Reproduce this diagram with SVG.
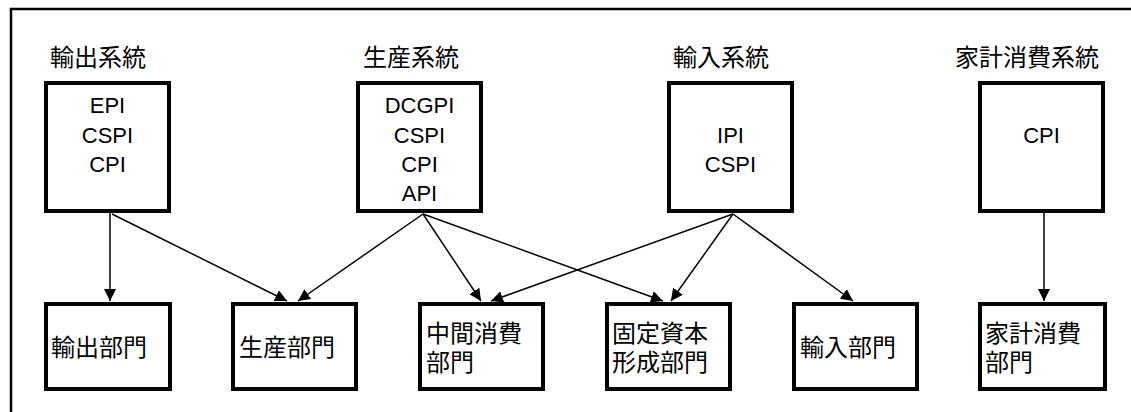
<svg xmlns="http://www.w3.org/2000/svg" width="1131" height="412" viewBox="0 0 1131 412">
  <defs>
    <marker id="arrow" markerUnits="userSpaceOnUse" markerWidth="12" markerHeight="12" refX="12" refY="6" orient="auto">
      <path d="M0,0 L12,6 L0,12 z" fill="#000"/>
    </marker>
    <style>
      .frame { fill: none; stroke: #000; stroke-width: 2.5; }
      .box { fill: #fff; stroke: #000; stroke-width: 4; }
      .title { font-family: "Noto Sans CJK JP", "Noto Sans CJK SC", sans-serif; font-size: 24px; fill: #000; }
      .idx { font-family: "Liberation Sans", Arial, sans-serif; font-size: 22px; fill: #000; text-anchor: middle; }
      .sect { font-family: "Noto Sans CJK JP", "Noto Sans CJK SC", sans-serif; font-size: 24px; fill: #000; }
      .link { fill: none; stroke: #000; stroke-width: 1.5; marker-end: url(#arrow); }
    </style>
  </defs>

  <rect width="1131" height="412" fill="#fff"/>

  <!-- outer frame: left and top edges -->
  <path class="frame" d="M11,412 V9 H1131"/>

  <!-- system titles -->
  <text class="title" x="50" y="65.5">輸出系統</text>
  <text class="title" x="363" y="65.5">生産系統</text>
  <text class="title" x="673" y="65.5">輸入系統</text>
  <text class="title" x="955" y="65.5">家計消費系統</text>

  <!-- connectors -->
  <g id="connectors">
    <line class="link" x1="110" y1="213" x2="110" y2="301"/>
    <line class="link" x1="112" y1="214" x2="287" y2="301"/>
    <line class="link" x1="423" y1="214" x2="298" y2="301"/>
    <line class="link" x1="423" y1="214" x2="481" y2="301"/>
    <line class="link" x1="423" y1="214" x2="663" y2="301"/>
    <line class="link" x1="733" y1="214" x2="491" y2="301"/>
    <line class="link" x1="733" y1="214" x2="671" y2="301"/>
    <line class="link" x1="733" y1="214" x2="853" y2="301"/>
    <line class="link" x1="1044" y1="213" x2="1044" y2="301"/>
  </g>

  <!-- index systems -->
  <g id="sys-export">
    <rect class="box" x="46" y="83" width="123" height="128"/>
    <text class="idx" x="107.5" y="113">EPI</text>
    <text class="idx" x="107.5" y="142.5">CSPI</text>
    <text class="idx" x="107.5" y="172">CPI</text>
  </g>
  <g id="sys-production">
    <rect class="box" x="358" y="83" width="123" height="128"/>
    <text class="idx" x="419.5" y="113">DCGPI</text>
    <text class="idx" x="419.5" y="142.5">CSPI</text>
    <text class="idx" x="419.5" y="172">CPI</text>
    <text class="idx" x="419.5" y="201">API</text>
  </g>
  <g id="sys-import">
    <rect class="box" x="669" y="83" width="123" height="128"/>
    <text class="idx" x="730.5" y="142.5">IPI</text>
    <text class="idx" x="730.5" y="172">CSPI</text>
  </g>
  <g id="sys-household">
    <rect class="box" x="980" y="83" width="123" height="128"/>
    <text class="idx" x="1041.5" y="142.5">CPI</text>
  </g>

  <!-- sectors -->
  <g id="sec-export">
    <rect class="box" x="46" y="304" width="124" height="85"/>
    <text class="sect" x="51" y="356">輸出部門</text>
  </g>
  <g id="sec-production">
    <rect class="box" x="233" y="304" width="123" height="85"/>
    <text class="sect" x="239" y="356">生産部門</text>
  </g>
  <g id="sec-intermediate">
    <rect class="box" x="420" y="304" width="123" height="85"/>
    <text class="sect" x="426" y="341.5">中間消費<tspan x="426" dy="29.5">部門</tspan></text>
  </g>
  <g id="sec-capital">
    <rect class="box" x="607" y="304" width="123" height="85"/>
    <text class="sect" x="612" y="341.5">固定資本<tspan x="612" dy="29.5">形成部門</tspan></text>
  </g>
  <g id="sec-import">
    <rect class="box" x="794" y="304" width="123" height="85"/>
    <text class="sect" x="800" y="356">輸入部門</text>
  </g>
  <g id="sec-household">
    <rect class="box" x="980" y="304" width="125" height="85"/>
    <text class="sect" x="985" y="341.5">家計消費<tspan x="985" dy="29.5">部門</tspan></text>
  </g>
</svg>
